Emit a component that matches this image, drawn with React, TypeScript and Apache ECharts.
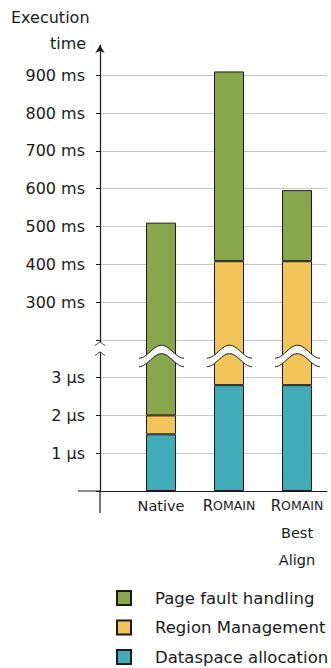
import { useEffect, useRef } from 'react';
import * as echarts from 'echarts';

// Categories and the measured durations of each phase, in microseconds.
const categories = ['Native', 'Romain', 'Romain Best Align'];
const dataspaceAllocationUs = [1.5, 2.8, 2.8];
const regionManagementUs = [0.5, 408000, 408000];
const pageFaultHandlingUs = [510000, 502000, 188000];

// Tick labels for the broken axis: 0..3 µs below the break, 200..900 ms above it.
const yTickLabels = ['', '1 µs', '2 µs', '3 µs', '', '300 ms', '400 ms', '500 ms', '600 ms', '700 ms', '800 ms', '900 ms'];

const legendOrder = ['Page fault handling', 'Region Management', 'Dataspace allocation'];

// Axis mapping: microseconds are drawn 1:1 up to the break, then 100 ms per unit from 200 ms (= 4).
const MS_SEGMENT_FROM_US = 200000;
const MS_SEGMENT_AT = 4;
const US_PER_UNIT_ABOVE = 100000;
const toAxis = (us: number) =>
  us < MS_SEGMENT_FROM_US ? us : MS_SEGMENT_AT + (us - MS_SEGMENT_FROM_US) / US_PER_UNIT_ABOVE;

const BREAK_MARK_AT = 3.58;
const AXIS_TOP = 11.8;
const LAST_TICK = 11;

const GREEN = '#88a64b';
const YELLOW = '#f2c45a';
const TEAL = '#41abb8';
const INK = '#1a1a1a';
const FONT = 'DejaVu Sans';

// Stacked segments expressed in axis units.
const cum1 = dataspaceAllocationUs;
const cum2 = cum1.map((v, i) => v + regionManagementUs[i]);
const cum3 = cum2.map((v, i) => v + pageFaultHandlingUs[i]);
const segDataspace = cum1.map((v) => toAxis(v));
const segRegion = cum2.map((v, i) => toAxis(v) - toAxis(cum1[i]));
const segPageFault = cum3.map((v, i) => toAxis(v) - toAxis(cum2[i]));

// A white band bounded by two arched strokes, used to mark the axis break.
function breakWave(cx: number, peakY: number, halfW: number, rise: number, thick: number) {
  const n = 28;
  const upper: number[][] = [];
  const lower: number[][] = [];
  for (let i = 0; i <= n; i++) {
    const u = -1 + (2 * i) / n;
    const x = cx + u * halfW;
    const y = peakY + (rise * (1 - Math.cos(Math.PI * u))) / 2;
    upper.push([x, y]);
    lower.push([x, y + thick]);
  }
  const line = { stroke: INK, lineWidth: 1, fill: null as any };
  return {
    type: 'group',
    children: [
      { type: 'polygon', shape: { points: [...upper, ...lower.slice().reverse()] }, style: { fill: '#fff' } },
      { type: 'polyline', shape: { points: upper }, style: line },
      { type: 'polyline', shape: { points: lower }, style: line },
    ],
  };
}

const barBase = {
  type: 'bar' as const,
  stack: 'total',
  xAxisIndex: 2,
  yAxisIndex: 2,
  barWidth: 30,
  z: 2,
};

const option: any = {
  animation: false,
  textStyle: { fontFamily: FONT, color: INK },
  grid: [
    { left: 100, right: 4, top: 45, bottom: 177 },
    { left: 100, right: 4, top: 491 - (LAST_TICK * 446) / AXIS_TOP, bottom: 177 },
    { left: 127, right: 0, top: 45, bottom: 177 },
  ],
  xAxis: [
    {
      type: 'value', gridIndex: 0, min: 0, max: 1,
      axisLine: { show: true, lineStyle: { color: INK, width: 1 } },
      axisTick: { show: false }, axisLabel: { show: false }, splitLine: { show: false },
    },
    {
      type: 'value', gridIndex: 1, min: 0, max: 1, show: false,
    },
    {
      type: 'category', gridIndex: 2, data: categories,
      axisLine: { show: false }, axisTick: { show: false },
      axisLabel: {
        interval: 0,
        margin: 1,
        color: INK,
        formatter: (v: string) =>
          v === 'Native'
            ? '{n|Native}'
            : v === 'Romain'
            ? '{r|R}{s|OMAIN}'
            : '{r|R}{s|OMAIN}\n{n|Best}\n{n|Align}',
        rich: {
          n: { fontSize: 14.5, lineHeight: 27, fontFamily: FONT, color: INK },
          r: { fontSize: 15, lineHeight: 27, fontFamily: FONT, color: INK },
          s: { fontSize: 12.5, lineHeight: 27, fontFamily: FONT, color: INK },
        },
      },
    },
  ],
  yAxis: [
    {
      type: 'value', gridIndex: 0, min: 0, max: AXIS_TOP,
      axisLine: { show: true, symbol: ['none', 'arrow'], symbolSize: [7, 8], lineStyle: { color: INK, width: 1.2 } },
      axisTick: { show: false }, axisLabel: { show: false }, splitLine: { show: false },
    },
    {
      type: 'value', gridIndex: 1, min: 0, max: LAST_TICK, interval: 1,
      axisLine: { show: false },
      axisTick: { show: true, length: 4, lineStyle: { color: INK, width: 1 } },
      axisLabel: {
        margin: 15, fontSize: 16, color: INK, fontFamily: FONT,
        formatter: (v: number) => yTickLabels[Math.round(v)] ?? '',
      },
      splitLine: { show: true, lineStyle: { color: '#c6c6c6', width: 1 } },
    },
    {
      type: 'value', gridIndex: 2, min: 0, max: AXIS_TOP, show: false,
    },
  ],
  legend: {
    orient: 'vertical',
    left: 116,
    top: 589,
    padding: 0,
    itemWidth: 14,
    itemHeight: 14,
    itemGap: 11.5,
    icon: 'rect',
    selectedMode: false,
    data: legendOrder,
    textStyle: { fontSize: 16.5, lineHeight: 18, color: INK, fontFamily: FONT, padding: [0, 0, 0, 19] },
  },
  series: [
    {
      ...barBase,
      name: 'Dataspace allocation',
      data: segDataspace,
      itemStyle: { color: TEAL, borderColor: INK, borderWidth: 1 },
    },
    {
      ...barBase,
      name: 'Region Management',
      data: segRegion,
      itemStyle: { color: YELLOW, borderColor: INK, borderWidth: 1 },
    },
    {
      ...barBase,
      name: 'Page fault handling',
      data: segPageFault,
      itemStyle: { color: GREEN, borderColor: INK, borderWidth: 1 },
    },
    {
      type: 'custom',
      name: 'bar breaks',
      xAxisIndex: 2,
      yAxisIndex: 2,
      z: 6,
      clip: false,
      silent: true,
      data: categories.map((_, i) => [i, BREAK_MARK_AT]),
      renderItem: (_params: any, api: any) => {
        const [cx, cy] = api.coord([api.value(0), api.value(1)]);
        return breakWave(cx + 0.5, cy - 10.5, 22.5, 13, 8.5);
      },
    },
    {
      type: 'custom',
      name: 'axis break',
      xAxisIndex: 0,
      yAxisIndex: 0,
      z: 6,
      clip: false,
      silent: true,
      data: [[0, BREAK_MARK_AT]],
      renderItem: (_params: any, api: any) => {
        const [cx, cy] = api.coord([api.value(0), api.value(1)]);
        return breakWave(cx, cy - 13.5, 5, 3, 10);
      },
    },
  ],
};

export default function App() {
  const ref = useRef<HTMLDivElement>(null);
  useEffect(() => {
    const chart = echarts.init(ref.current!, null, { renderer: 'svg' });
    chart.setOption(option);
    // Axis lines continue a little past the origin, crossing each other.
    const [ox, oy] = chart.convertToPixel({ gridIndex: 0 }, [0, 0]) as number[];
    chart.setOption({
      graphic: [
        { type: 'line', shape: { x1: ox - 22, y1: oy, x2: ox, y2: oy }, style: { stroke: INK, lineWidth: 1 }, z: 10 },
        { type: 'line', shape: { x1: ox, y1: oy, x2: ox, y2: oy + 22 }, style: { stroke: INK, lineWidth: 1.2 }, z: 10 },
        { type: 'text', left: 11, top: 9, style: { text: 'Execution', font: `16px "${FONT}"`, fill: INK } },
        { type: 'text', left: 50, top: 35, style: { text: 'time', font: `16px "${FONT}"`, fill: INK } },
      ],
    });
    return () => chart.dispose();
  }, []);
  return <div ref={ref} style={{ position: 'absolute', left: 0, top: 0, width: 331, height: 668 }} />;
}
